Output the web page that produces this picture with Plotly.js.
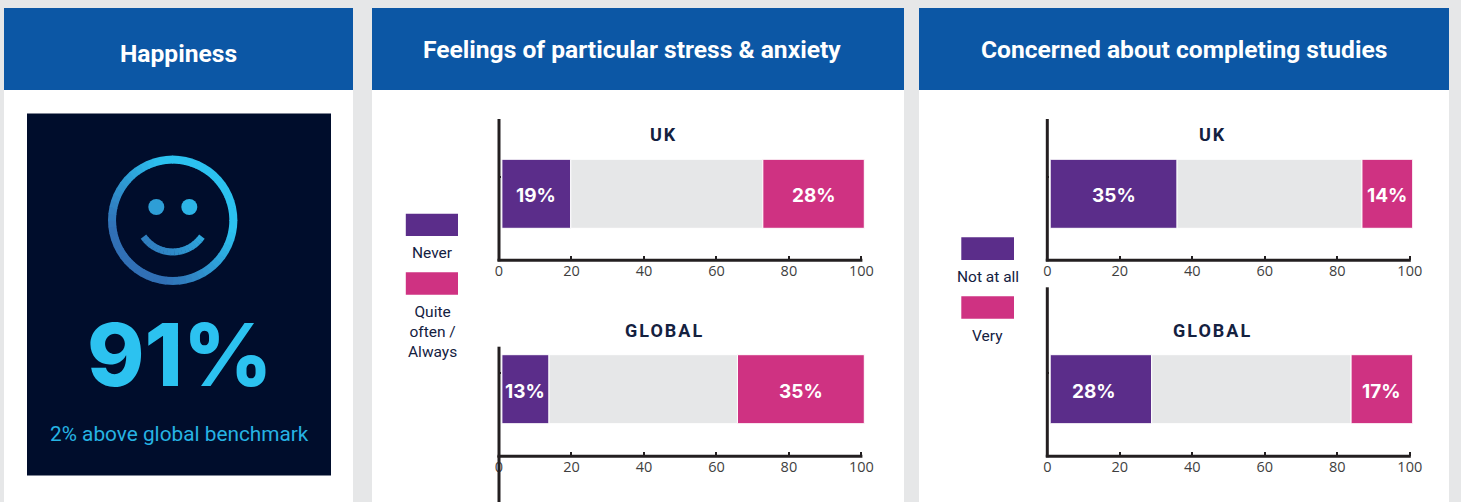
<!DOCTYPE html>
<html><head><meta charset="utf-8">
<script src="https://cdn.plot.ly/plotly-3.0.1.min.js"></script>
<style>
html,body{margin:0;padding:0;background:#e6e7e8;overflow:hidden}
#chart{width:1461px;height:502px}
</style></head><body><div id="chart"></div>
<script>
// ---- data ----
var groups = ['UK', 'GLOBAL'];
var stressLow  = [19, 13];
var stressMid  = [53, 52];
var stressHigh = [28, 35];
var studyLow   = [35, 28];
var studyMid   = [51, 55];
var studyHigh  = [14, 17];
var xTicks = [0, 20, 40, 60, 80, 100];
var panelTitles = ['Happiness', 'Feelings of particular stress & anxiety', 'Concerned about completing studies'];
var stressLegend = ['Never', 'Quite<br>often /<br>Always'];
var studyLegend = ['Not at all', 'Very'];
var happinessValue = '91%';
var happinessNote = '2% above global benchmark';
// bars start a little right of the axis line in the source
var barStart = 0.8;

// ---- styles ----
var W = 1461, H = 502;
var PURPLE = '#5b2d8a', PINK = '#cf3282', GREY = '#e6e7e8', BLUE = '#0c57a5', NAVY = '#000d2c', CYAN = '#2cc2f0', INK = '#14213f', AXIS = '#231f20';
var FONT = 'Roboto, sans-serif', TICKFONT = '"Open Sans", sans-serif';
function fx(p){return p/W;}
function fy(p){return 1-p/H;}
function rect(x0,y0,x1,y1,color){return {type:'rect',xref:'paper',yref:'paper',x0:fx(x0),x1:fx(x1),y0:fy(y0),y1:fy(y1),fillcolor:color,line:{width:0},layer:'below'};}
function pline(x0,y0,x1,y1){return {type:'line',xref:'paper',yref:'paper',x0:fx(x0),x1:fx(x1),y0:fy(y0),y1:fy(y1),line:{color:AXIS,width:3},layer:'above'};}
function note(x,y,text,size,color,weight,family){
  return {xref:'paper',yref:'paper',x:fx(x),y:fy(y),xanchor:'center',yanchor:'middle',text:text,showarrow:false,
    font:{family:family||FONT,size:size,color:color,weight:weight||400}};
}

var shapes = [
  rect(4,8,353,502,'#ffffff'), rect(372,8,904,502,'#ffffff'), rect(919,8,1449,502,'#ffffff'),
  rect(4,8,353,90,BLUE), rect(372,8,904,90,BLUE), rect(919,8,1449,90,BLUE),
  rect(27,113.5,331,475.5,NAVY)
];
var annotations = [
  note(178.5,53,panelTitles[0],24.6,'#ffffff',700),
  note(631.5,49,panelTitles[1],24.6,'#ffffff',700),
  note(1184,49,panelTitles[2],24.6,'#ffffff',700),
  note(179.5,354,happinessValue,87,CYAN,800,'Inter, sans-serif'),
  note(179.5,434,happinessNote,20.8,'#26b3e3',400)
];

// smiley icon, gradient simulated by short coloured segments
function mix(t){
  var a=[49,112,182], b=[44,194,240];
  t=Math.max(0,Math.min(1,t));
  return 'rgb('+a.map(function(v,i){return Math.round(v+(b[i]-v)*t);}).join(',')+')';
}
var cx=172.7, cy=220.3;
function grad(x,y){return ((x-cx)+(cy-y)+70)/120;}
function arc(x0,y0,r,a0,a1,width){
  var n=Math.ceil(Math.abs(a1-a0)/6);
  for(var i=0;i<n;i++){
    var s=(a0+(a1-a0)*i/n-0.4)*Math.PI/180, e=(a0+(a1-a0)*(i+1)/n+0.4)*Math.PI/180, m=(s+e)/2;
    var d='M'+fx(x0+r*Math.cos(s))+','+fy(y0+r*Math.sin(s))+' L'+fx(x0+r*Math.cos(e))+','+fy(y0+r*Math.sin(e));
    shapes.push({type:'path',xref:'paper',yref:'paper',path:d,line:{color:mix(grad(x0+r*Math.cos(m),y0+r*Math.sin(m))),width:width},layer:'below'});
  }
}
arc(cx,cy,60.7,0,360,8);
arc(cx,216.5,35.5,35,145,7);
[156.3,189.3].forEach(function(x){
  shapes.push({type:'circle',xref:'paper',yref:'paper',x0:fx(x-8),x1:fx(x+8),y0:fy(207+8),y1:fy(207-8),
    fillcolor:mix(grad(x,207)),line:{width:0},layer:'below'});
});

// ---- subplots ----
var layout = {
  width:W,height:H,margin:{l:0,r:0,t:0,b:0},paper_bgcolor:'#e6e7e8',plot_bgcolor:'rgba(0,0,0,0)',
  showlegend:false,barmode:'overlay',shapes:shapes,annotations:annotations,dragmode:false
};
var traces = [];
var BAR_PX = 69;
var X_MAX = 101; // the bars overshoot the 100 tick slightly, so the scale runs on past it
var subplots = [
  {low:stressLow,mid:stressMid,high:stressHigh,g:0,x0:499,x1:861.4,top:119,bot:260.3,ctr:193.8,tick:177},
  {low:stressLow,mid:stressMid,high:stressHigh,g:1,x0:499,x1:861.4,top:346.7,bot:456.2,ctr:389.2,tick:372.7},
  {low:studyLow,mid:studyMid,high:studyHigh,g:0,x0:1047.3,x1:1409.8,top:119,bot:260.3,ctr:193.8,tick:177},
  {low:studyLow,mid:studyMid,high:studyHigh,g:1,x0:1047.3,x1:1409.8,top:287.3,bot:456.2,ctr:389.2,tick:372.7}
];
subplots.forEach(function(s,i){
  var id=i+1, suffix=(id>1?id:''), xa='x'+suffix, ya='y'+suffix;
  var lo=s.low[s.g], mi=s.mid[s.g], hi=s.high[s.g];
  function bar(v,b,color){
    return {type:'bar',orientation:'h',x:[v],y:[0],base:[b],width:[1],xaxis:xa,yaxis:ya,cliponaxis:false,
      marker:{color:color,line:{color:'#ffffff',width:1}},hoverinfo:'skip',textposition:'none'};
  }
  function valueLabel(v,b,shift){
    annotations.push({xref:xa,yref:ya,x:b+v/2,y:0,xanchor:'center',yanchor:'middle',xshift:shift,yshift:-2,text:v+'%',showarrow:false,
      font:{family:'Inter, sans-serif',size:19,color:'#ffffff',weight:700}});
  }
  traces.push(bar(lo,barStart,PURPLE));
  traces.push(bar(mi,barStart+lo,GREY));
  traces.push(bar(hi,barStart+lo+mi,PINK));
  // the 28% label sits left of its bar's centre in the source
  valueLabel(lo,barStart,i===3?-7:0);
  valueLabel(hi,barStart+lo+mi,0);
  var xEnd = s.x0+(s.x1-s.x0)*X_MAX/100;
  layout['xaxis'+suffix]={domain:[fx(s.x0),fx(xEnd)],range:[0,X_MAX],anchor:ya,tickmode:'array',tickvals:xTicks,
    ticks:'inside',ticklen:4,tickwidth:2,tickcolor:AXIS,showline:false,ticklabelstandoff:0,
    showgrid:false,zeroline:false,fixedrange:true,tickfont:{family:TICKFONT,size:14.5,color:'#3f3f3f'}};
  layout['yaxis'+suffix]={domain:[fy(s.bot),fy(s.top)],
    range:[-(s.bot-s.ctr)/BAR_PX,(s.ctr-s.top)/BAR_PX],anchor:xa,tickmode:'array',tickvals:[(s.ctr-s.tick)/BAR_PX],
    showticklabels:false,ticks:'inside',ticklen:2,tickwidth:2,tickcolor:AXIS,showline:false,
    showgrid:false,zeroline:false,fixedrange:true};
  // axis lines stop at the 100 tick while the bars run past it
  shapes.push(pline(s.x0-1.5,s.bot,s.x1+1,s.bot));
  shapes.push(pline(s.x0,s.top,s.x0,s.bot+1));
  annotations.push(note((i<2?664.4:1212.7),(s.g===0?134:330),groups[s.g],18,INK,700));
});
// axis of the following chart showing below the stress / GLOBAL chart
shapes.push(pline(499,456.2,499,502));

// legends
shapes.push(rect(405.8,213.7,458,236,PURPLE), rect(405.8,272.3,458,294.7,PINK), rect(961.3,237.3,1014,260,PURPLE), rect(961.3,296.3,1014,318.7,PINK));
annotations.push(note(432,253,stressLegend[0],15.5,INK));
annotations.push(note(432,331.5,stressLegend[1],15.5,INK));
annotations.push(note(987.5,276.7,studyLegend[0],15.5,INK));
annotations.push(note(987.5,336,studyLegend[1],15.5,INK));

Plotly.newPlot('chart',traces,layout,{displayModeBar:false,staticPlot:true}).then(function(){
  document.querySelectorAll('.annotation-text').forEach(function(t){
    if(groups.indexOf(t.textContent)>=0){t.style.letterSpacing='2px';}
  });
});
</script></body></html>
